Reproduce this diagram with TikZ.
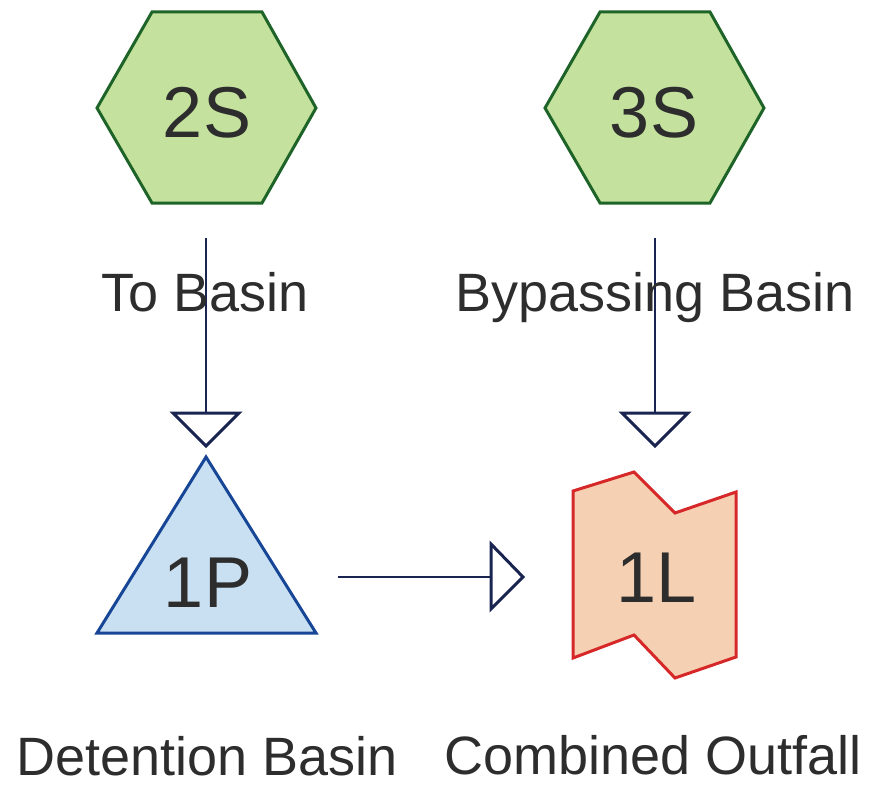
\documentclass[tikz,border=0pt]{standalone}
\usepackage{fontspec}
\setmainfont{Liberation Sans}
\usetikzlibrary{arrows.meta}
\definecolor{hexfill}{RGB}{196,226,158}
\definecolor{hexline}{RGB}{30,100,40}
\definecolor{trifill}{RGB}{200,224,242}
\definecolor{triline}{RGB}{24,70,150}
\definecolor{reachfill}{RGB}{246,208,178}
\definecolor{reachline}{RGB}{214,40,40}
\definecolor{linkcol}{RGB}{26,36,80}
\definecolor{txt}{RGB}{45,45,45}
\tikzset{
  lbl/.style={anchor=base, text=txt, inner sep=0pt, font=\fontsize{54}{60}\selectfont},
  idlbl/.style={anchor=base, text=txt, inner sep=0pt, font=\fontsize{72}{80}\selectfont},
  link/.style={draw=linkcol, line width=2.2pt},
  openhead/.style={draw=linkcol, fill=white, line width=3pt, line join=miter},
  shapeline/.style={line width=3pt, line join=miter},
}
\begin{document}
\begin{tikzpicture}[x=1pt,y=-1pt]
\useasboundingbox (0,0) rectangle (872,789);
% hexagons
\filldraw[shapeline, fill=hexfill, draw=hexline]
  (152,12) -- (262,12) -- (316,108) -- (262,203) -- (152,203) -- (97,108) -- cycle;
\filldraw[shapeline, fill=hexfill, draw=hexline]
  (600,12) -- (710,12) -- (764,108) -- (710,203) -- (600,203) -- (545,108) -- cycle;
\node[idlbl] (s2) at (207,137) {2S};
\node[idlbl] (s3) at (654,137) {3S};
% triangle pond
\filldraw[shapeline, fill=trifill, draw=triline]
  (206,457) -- (316,633) -- (97,633) -- cycle;
\node[idlbl] (p1) at (208,607) {1P};
% reach / link shape
\filldraw[shapeline, fill=reachfill, draw=reachline]
  (573,491) -- (634,472) -- (675,513) -- (736,492) -- (736,657) -- (675,678) -- (634,635) -- (573,658) -- cycle;
\node[idlbl] (l1) at (657,602) {1L};
% coordinates for connectors
\coordinate (a1s) at (206,238);
\coordinate (a1e) at (206,413);
\coordinate (a2s) at (655,238);
\coordinate (a2e) at (655,413);
\coordinate (a3s) at (338,577);
\coordinate (a3e) at (491,577);
\draw[link] (a1s) -- (a1e);
\draw[link] (a2s) -- (a2e);
\draw[link] (a3s) -- (a3e);
% open arrow heads
\filldraw[openhead] (173,413) -- (239,413) -- (206,446) -- cycle;
\filldraw[openhead] (622,413) -- (688,413) -- (655,446) -- cycle;
\filldraw[openhead] (491,544) -- (523,577) -- (491,609) -- cycle;
% labels
\node[lbl] (t1) at (205,311) {To Basin};
\node[lbl] (t2) at (655,311) {Bypassing Basin};
\node[lbl] (t3) at (207,775) {Detention Basin};
\node[lbl] (t4) at (653,774) {Combined Outfall};
\end{tikzpicture}
\end{document}
